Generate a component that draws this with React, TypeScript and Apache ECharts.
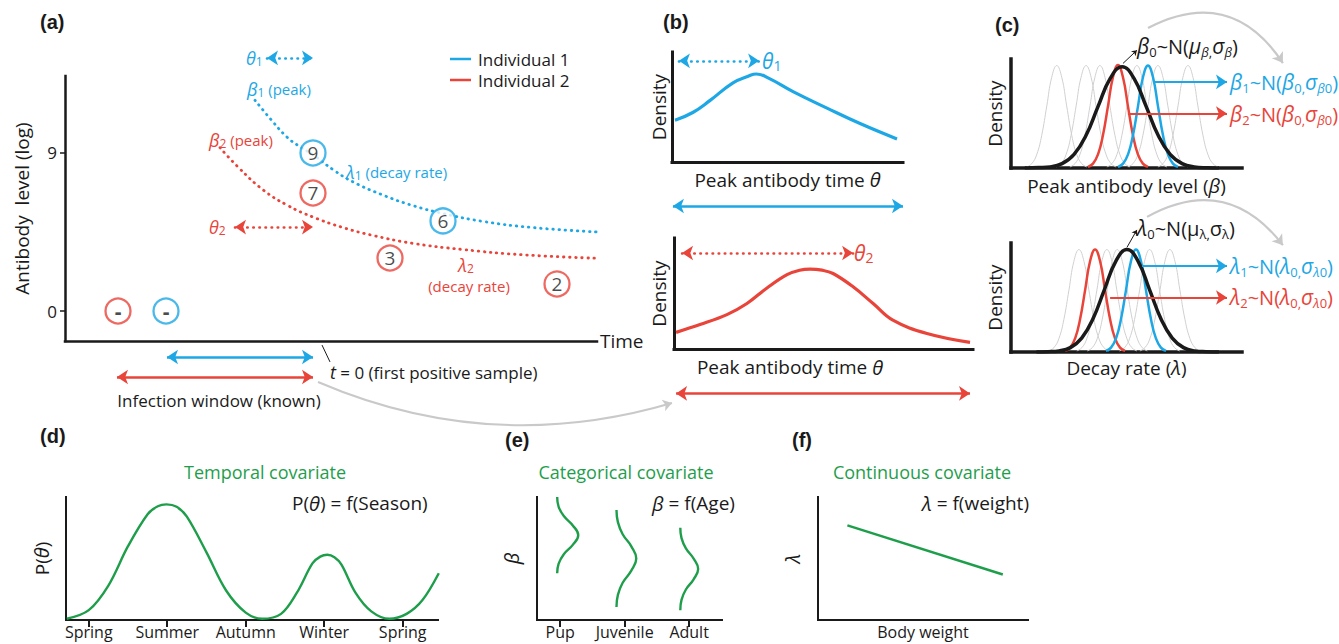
import React, { useEffect, useRef } from "react";
import * as echarts from "echarts";

// ---------------- data ----------------
// (a) antibody trajectories: [time relative to first positive sample, log antibody level]
const IND1_TRAJECTORY = [
  [-5.8, 12.0], [-4.2, 10.9], [-2.6, 9.9], [-1.3, 9.35], [0, 8.9], [2, 8.05], [4, 7.35],
  [7, 6.6], [10, 6.0], [13, 5.55], [17, 5.1], [22, 4.75], [28.4, 4.5],
];
const IND2_TRAJECTORY = [
  [-9.3, 9.3], [-7.5, 8.2], [-5, 6.9], [-2.5, 6.0], [0, 5.35], [3, 4.75], [6, 4.3],
  [10, 3.85], [15, 3.5], [21, 3.2], [28.4, 3.0],
];
const IND1_SAMPLES = [[-14.7, 0, "-"], [0, 9, "9"], [13, 5.13, "6"]];
const IND2_SAMPLES = [[-19.5, 0, "-"], [0, 6.72, "7"], [7.7, 3.02, "3"], [24.4, 1.54, "2"]];
const A_TICKS = [0, 9];
const IND1_WINDOW = [-14.6, 0];
const IND2_WINDOW = [-19.6, 0];
const THETA1_OFFSET = [-4.6, 0];
const THETA2_OFFSET = [-7.8, 0];

// (b) density of peak antibody time
const THETA1_DENSITY = [
  [0.13, 0.38], [0.9, 0.45], [1.65, 0.56], [2.64, 0.72], [3.3, 0.78], [3.65, 0.8], [4.2, 0.76],
  [5.24, 0.64], [6.71, 0.49], [8.14, 0.35], [9.74, 0.21],
];
const THETA2_DENSITY = [
  [0.07, 0.15], [0.87, 0.22], [1.77, 0.31], [2.44, 0.41], [3.11, 0.55], [3.78, 0.67], [4.2, 0.71],
  [4.55, 0.72], [4.95, 0.71], [5.32, 0.68], [5.99, 0.56], [6.66, 0.41], [7.32, 0.26], [8.46, 0.14],
  [9.9, 0.06],
];
const THETA1_SPAN = [0.3, 3.77];
const THETA2_SPAN = [0.27, 5.99];

// (c) population and individual distributions
const BETA_POP = [
  [0.6, 0], [1.2, 0.004], [1.69, 0.01], [2.21, 0.04], [2.73, 0.125], [3.25, 0.3], [3.77, 0.565],
  [4.29, 0.82], [4.81, 0.93], [5.33, 0.82], [5.85, 0.565], [6.37, 0.3], [6.89, 0.125],
  [7.41, 0.04], [7.93, 0.01], [8.5, 0.002], [9.0, 0],
];
const BETA_IND1 = [
  [4.63, 0.01], [4.85, 0.04], [5.07, 0.127], [5.28, 0.3], [5.5, 0.57], [5.71, 0.83], [5.93, 0.94],
  [6.15, 0.83], [6.36, 0.57], [6.58, 0.3], [6.79, 0.127], [7.01, 0.04], [7.23, 0.01],
];
const BETA_IND2 = [
  [3.33, 0.01], [3.55, 0.04], [3.77, 0.127], [3.98, 0.3], [4.2, 0.57], [4.41, 0.83], [4.63, 0.945],
  [4.85, 0.83], [5.06, 0.57], [5.28, 0.3], [5.49, 0.127], [5.71, 0.04], [5.93, 0.01],
];
const BETA_OTHER_PEAKS = [1.98, 3.25, 3.85, 5.45, 6.36, 7.66];
const LAMBDA_POP = [
  [1.1, 0], [1.6, 0.003], [2.08, 0.01], [2.57, 0.04], [3.06, 0.127], [3.55, 0.305], [4.04, 0.57],
  [4.53, 0.83], [5.02, 0.94], [5.51, 0.83], [6.0, 0.57], [6.49, 0.305], [6.98, 0.127],
  [7.47, 0.04], [7.96, 0.01], [8.45, 0.003], [9.0, 0],
];
const LAMBDA_IND1 = [
  [4.11, 0.01], [4.33, 0.04], [4.55, 0.127], [4.76, 0.3], [4.98, 0.57], [5.19, 0.83], [5.41, 0.94],
  [5.63, 0.83], [5.84, 0.57], [6.06, 0.3], [6.27, 0.127], [6.49, 0.04], [6.71, 0.01],
];
const LAMBDA_IND2 = [
  [2.34, 0.01], [2.56, 0.04], [2.78, 0.127], [2.99, 0.3], [3.21, 0.57], [3.42, 0.83], [3.64, 0.94],
  [3.86, 0.83], [4.07, 0.57], [4.29, 0.3], [4.5, 0.127], [4.72, 0.04], [4.94, 0.01],
];
const LAMBDA_OTHER_PEAKS = [2.94, 4.15, 4.6, 6.0, 6.88];
const NARROW_SHAPE = [
  [-1.3, 0.01], [-1.08, 0.04], [-0.86, 0.127], [-0.65, 0.3], [-0.43, 0.57], [-0.22, 0.83], [0, 0.94],
  [0.22, 0.83], [0.43, 0.57], [0.65, 0.3], [0.86, 0.127], [1.08, 0.04], [1.3, 0.01],
];

// (d) temporal covariate
const SEASONS = ["Spring", "Summer", "Autumn", "Winter", "Spring"];
const SEASON_TICKS = [1, 2, 3, 4, 5];
const SEASONAL_P = [
  [0.72, 0.01], [1.0, 0.08], [1.25, 0.28], [1.5, 0.6], [1.75, 0.86], [1.88, 0.925], [1.99, 0.94],
  [2.12, 0.92], [2.25, 0.84], [2.5, 0.55], [2.75, 0.24], [3.0, 0.06], [3.21, 0.01], [3.45, 0.05],
  [3.65, 0.22], [3.85, 0.46], [3.95, 0.515], [4.04, 0.53], [4.13, 0.51], [4.22, 0.45], [4.4, 0.22],
  [4.6, 0.07], [4.83, 0.01], [5.05, 0.05], [5.25, 0.16], [5.46, 0.38],
];

// (e) categorical covariate: [class position + density, beta]
const AGE_CLASSES = ["Pup", "Juvenile", "Adult"];
const AGE_TICKS = [1, 2, 3];
const PUP_BETA = [
  [0.953, 1.0], [0.976, 0.92], [1.056, 0.845], [1.198, 0.767], [1.28, 0.69], [1.198, 0.613],
  [1.056, 0.535], [0.976, 0.458], [0.953, 0.38],
];
const JUVENILE_BETA = [
  [1.873, 0.894], [1.895, 0.796], [1.969, 0.697], [2.103, 0.599], [2.18, 0.5], [2.103, 0.401],
  [1.969, 0.303], [1.895, 0.204], [1.873, 0.106],
];
const ADULT_BETA = [
  [2.863, 0.75], [2.882, 0.666], [2.95, 0.582], [3.07, 0.499], [3.14, 0.415], [3.07, 0.331],
  [2.95, 0.248], [2.882, 0.164], [2.863, 0.08],
];

// (f) continuous covariate
const WEIGHT_LAMBDA = [[0.14, 0.77], [0.88, 0.37]];

// ---------------- styles ----------------
const BLUE = "#1DA7E5";
const RED = "#E8443A";
const GREEN = "#1E9E4B";
const INK = "#1a1a1a";
const GREY_LINE = "#d0d0d0";
const GREY_ARROW = "#c9c9c9";
const FONT = "'Open Sans', 'Noto Sans', 'DejaVu Sans', sans-serif";
const BOLD_FONT = "'Liberation Sans', Arial, sans-serif";

const richSet = (color: string, base: number, sub: number, drop: number, small = 15) => {
  const lh = sub + 2 * drop;
  const mk = (size: number, italic: boolean, lineHeight: number, va?: string) => ({
    fontFamily: FONT,
    fontSize: size,
    fontStyle: italic ? "italic" : "normal",
    fill: color,
    color,
    lineHeight,
    ...(va ? { verticalAlign: va } : {}),
  });
  return {
    i: mk(base + 1, true, lh),
    r: mk(base, false, lh),
    p: mk(small, false, lh),
    s: mk(sub, false, sub, "bottom"),
    si: mk(sub, true, sub, "bottom"),
  };
};

const txt = (x: number, y: number, text: string, o: any = {}) => ({
  type: "text",
  x,
  y,
  z: 50,
  silent: true,
  style: {
    text,
    fill: o.color ?? INK,
    fontFamily: o.family ?? FONT,
    fontSize: o.size ?? 17,
    fontStyle: o.italic ? "italic" : "normal",
    fontWeight: o.bold ? "bold" : "normal",
    align: o.align ?? "left",
    textAlign: o.align ?? "left",
    verticalAlign: "middle",
    textVerticalAlign: "middle",
    rich: o.rich,
  },
});

const valueAxis = (gridIndex: number, min: number, max: number, width: number, extra: any = {}) => ({
  type: "value",
  gridIndex,
  min,
  max,
  splitLine: { show: false },
  axisTick: { show: false },
  axisLabel: { show: false },
  axisLine: { show: true, onZero: false, lineStyle: { color: INK, width, cap: "square" } },
  nameTextStyle: { fontFamily: FONT, fontSize: 19, color: INK },
  ...extra,
});

const curve = (xi: number, data: number[][], color: string, width: number, extra: any = {}) => ({
  type: "line",
  xAxisIndex: xi,
  yAxisIndex: xi,
  data,
  smooth: extra.smooth ?? 0.45,
  showSymbol: false,
  symbol: "none",
  silent: true,
  lineStyle: { color, width, ...(extra.lineStyle || {}) },
  z: extra.z ?? 3,
});

const arrows = (xi: number, coords: number[][][], color: string, width: number, o: any = {}) => ({
  type: "lines",
  coordinateSystem: "cartesian2d",
  xAxisIndex: xi,
  yAxisIndex: xi,
  clip: false,
  silent: true,
  polyline: false,
  symbol: o.symbol ?? ["arrow", "arrow"],
  symbolSize: o.size ?? 10,
  lineStyle: { color, width, opacity: 1, curveness: o.curveness ?? 0, ...(o.lineStyle || {}) },
  data: coords.map((c) => ({ coords: c })),
  z: 4,
});

const samples = (data: any[], color: string) => ({
  type: "scatter",
  xAxisIndex: 0,
  yAxisIndex: 0,
  data,
  symbol: "circle",
  symbolSize: 25,
  silent: true,
  itemStyle: { color: "#fff", borderColor: color, borderWidth: 2.3 },
  label: {
    show: true,
    position: "inside",
    formatter: (p: any) => (p.data[2] === "-" ? "{d|-}" : p.data[2]),
    color: INK,
    fontSize: 19,
    fontFamily: FONT,
    rich: { d: { fontWeight: "bold", fontSize: 21, color: INK, fontFamily: FONT } },
  },
  z: 6,
});

const DOTS = { type: [0.5, 5.6], cap: "round" };

const greyFamily = (xi: number, peaks: number[]) =>
  peaks.map((c) => curve(xi, NARROW_SHAPE.map(([dx, y]) => [c + dx, y]), GREY_LINE, 1, { z: 1 }));

function buildOption() {
  const rA = (c: string) => richSet(c, 17, 12, 3, 15);
  const rB = (c: string) => richSet(c, 20, 14, 4);
  const rC = (c: string) => richSet(c, 20, 13, 6);
  const rD = (c: string) => richSet(c, 19, 13, 5);
  const nameRich = richSet(INK, 19, 13, 4);

  const xAxis = [
    valueAxis(0, -24.8, 28.4, 2.5, {
      name: "Time",
      nameLocation: "end",
      nameGap: 3,
      nameTextStyle: { fontFamily: FONT, fontSize: 19, color: INK, align: "left", verticalAlign: "middle" },
    }),
    valueAxis(1, 0, 10, 3, {
      name: "{r|Peak antibody time }{i|θ}",
      nameLocation: "middle",
      nameGap: 7,
      nameTextStyle: { rich: nameRich },
    }),
    valueAxis(2, 0, 10, 3),
    valueAxis(3, 0, 10, 3.5, {
      name: "{r|Peak antibody level (}{i|β}{r|)}",
      nameLocation: "middle",
      nameGap: 7,
      nameTextStyle: { rich: nameRich },
    }),
    valueAxis(4, 0, 10, 3.5, {
      name: "{r|Decay rate (}{i|λ}{r|)}",
      nameLocation: "middle",
      nameGap: 5,
      nameTextStyle: { rich: nameRich },
    }),
    valueAxis(5, 0.71, 5.45, 2, {
      axisTick: { show: true, customValues: SEASON_TICKS, length: 7, lineStyle: { color: INK, width: 2 } },
      axisLabel: {
        show: true,
        customValues: SEASON_TICKS,
        formatter: (v: number) => SEASONS[Math.round(v) - 1],
        fontFamily: FONT,
        fontSize: 16,
        color: INK,
        margin: 4,
      },
    }),
    valueAxis(6, 0.64, 3.51, 2, {
      axisTick: { show: true, customValues: AGE_TICKS, length: 7, lineStyle: { color: INK, width: 2 } },
      axisLabel: {
        show: true,
        customValues: AGE_TICKS,
        formatter: (v: number) => AGE_CLASSES[Math.round(v) - 1],
        fontFamily: FONT,
        fontSize: 16,
        color: INK,
        margin: 4,
      },
    }),
    valueAxis(7, 0, 1, 2, {
      name: "Body weight",
      nameLocation: "middle",
      nameGap: 4,
      nameTextStyle: { fontFamily: FONT, fontSize: 16, color: INK, verticalAlign: "top" },
    }),
  ];

  const yName = (name: string, gap: number, rich?: any) => ({
    name,
    nameLocation: "middle",
    nameGap: gap,
    nameRotate: 90,
    nameTextStyle: rich ? { rich } : { fontFamily: FONT, fontSize: 19, color: INK },
  });

  const yAxis = [
    valueAxis(0, -1.708, 13.38, 2.5, {
      ...yName("Antibody  level (log)", 34),
      axisTick: { show: true, customValues: A_TICKS, length: 5, lineStyle: { color: INK, width: 1.5 } },
      axisLabel: { show: true, customValues: A_TICKS, fontFamily: FONT, fontSize: 17, color: INK, margin: 8 },
    }),
    valueAxis(1, 0, 1, 3, yName("Density", 4)),
    valueAxis(2, 0, 1, 3, yName("Density", 6)),
    valueAxis(3, 0, 1, 3.5, yName("Density", 7)),
    valueAxis(4, 0, 1, 3.5, yName("Density", 7)),
    valueAxis(5, 0, 1, 2, yName("{r|P(}{i|θ}{r|)}", 14, richSet(INK, 19, 13, 4))),
    valueAxis(6, 0, 1, 2, yName("{i|β}", 15, richSet(INK, 19, 13, 4))),
    valueAxis(7, 0, 1, 2, yName("{i|λ}", 15, richSet(INK, 19, 13, 4))),
  ];

  const series: any[] = [
    // (a)
    curve(0, IND1_TRAJECTORY, BLUE, 2.8, { lineStyle: DOTS }),
    curve(0, IND2_TRAJECTORY, RED, 2.8, { lineStyle: DOTS }),
    samples(IND1_SAMPLES, BLUE),
    samples(IND2_SAMPLES, RED),
    arrows(0, [[[THETA1_OFFSET[0], 14.41], [THETA1_OFFSET[1], 14.41]]], BLUE, 2.6, { lineStyle: DOTS, size: 11 }),
    arrows(0, [[[THETA2_OFFSET[0], 4.78], [THETA2_OFFSET[1], 4.78]]], RED, 2.6, { lineStyle: DOTS, size: 11 }),
    arrows(0, [[[IND1_WINDOW[0], -2.62], [IND1_WINDOW[1], -2.62]]], BLUE, 2.5, { size: 11 }),
    arrows(0, [[[IND2_WINDOW[0], -3.76], [IND2_WINDOW[1], -3.76]]], RED, 2.5, { size: 11 }),
    arrows(0, [[[0.9, -1.94], [1.7, -2.9]]], INK, 1, { symbol: ["none", "none"] }),
    arrows(0, [[[0.5, -4.04], [35.9, -5.24]]], GREY_ARROW, 2, { symbol: ["none", "arrow"], size: 9, curveness: -0.18 }),
    // (b)
    curve(1, THETA1_DENSITY, BLUE, 3.2),
    arrows(1, [[[THETA1_SPAN[0], 0.92], [THETA1_SPAN[1], 0.92]]], BLUE, 2.6, { lineStyle: DOTS, size: 11 }),
    arrows(1, [[[0.04, -0.4], [10, -0.4]]], BLUE, 2.5, { size: 11 }),
    curve(2, THETA2_DENSITY, RED, 3.2, { smooth: 0.4 }),
    arrows(2, [[[THETA2_SPAN[0], 0.865], [THETA2_SPAN[1], 0.865]]], RED, 2.6, { lineStyle: DOTS, size: 11 }),
    arrows(2, [[[0.07, -0.4], [9.9, -0.4]]], RED, 2.5, { size: 11 }),
    // (c)
    ...greyFamily(3, BETA_OTHER_PEAKS),
    curve(3, BETA_IND2, RED, 2.5, { z: 2 }),
    curve(3, BETA_IND1, BLUE, 2.5, { z: 2 }),
    curve(3, BETA_POP, INK, 3.5, { z: 3 }),
    arrows(3, [[[6.15, 0.79], [9.35, 0.79]]], BLUE, 2.2, { symbol: ["none", "arrow"], size: 11 }),
    arrows(3, [[[5.06, 0.5], [9.35, 0.5]]], RED, 2.2, { symbol: ["none", "arrow"], size: 11 }),
    arrows(3, [[[4.85, 0.96], [5.45, 1.08]]], INK, 1, { symbol: ["none", "arrow"], size: 5 }),
    arrows(3, [[[5.93, 1.284], [11.77, 0.963]]], GREY_ARROW, 2.2, { symbol: ["none", "arrow"], size: 10, curveness: 0.45 }),
    ...greyFamily(4, LAMBDA_OTHER_PEAKS),
    curve(4, LAMBDA_IND2, RED, 2.5, { z: 2 }),
    curve(4, LAMBDA_IND1, BLUE, 2.5, { z: 2 }),
    curve(4, LAMBDA_POP, INK, 3.5, { z: 3 }),
    arrows(4, [[[5.67, 0.79], [9.35, 0.79]]], BLUE, 2.2, { symbol: ["none", "arrow"], size: 11 }),
    arrows(4, [[[4.29, 0.5], [9.35, 0.5]]], RED, 2.2, { symbol: ["none", "arrow"], size: 11 }),
    arrows(4, [[[5.02, 0.96], [5.45, 1.12]]], INK, 1, { symbol: ["none", "arrow"], size: 5 }),
    arrows(4, [[[5.89, 1.24], [11.77, 0.98]]], GREY_ARROW, 2.2, { symbol: ["none", "arrow"], size: 10, curveness: 0.43 }),
    // (d)
    curve(5, SEASONAL_P, GREEN, 2.4, { smooth: 0.35 }),
    // (e)
    curve(6, PUP_BETA, GREEN, 2.4),
    curve(6, JUVENILE_BETA, GREEN, 2.4),
    curve(6, ADULT_BETA, GREEN, 2.4),
    // (f)
    curve(7, WEIGHT_LAMBDA, GREEN, 2.4, { smooth: false }),
  ];

  const graphics: any[] = [
    // panel letters
    txt(40, 22, "(a)", { bold: true, family: BOLD_FONT, size: 20 }),
    txt(663, 22, "(b)", { bold: true, family: BOLD_FONT, size: 20 }),
    txt(995, 25, "(c)", { bold: true, family: BOLD_FONT, size: 20 }),
    txt(40, 436, "(d)", { bold: true, family: BOLD_FONT, size: 20 }),
    txt(505, 440, "(e)", { bold: true, family: BOLD_FONT, size: 20 }),
    txt(792, 440, "(f)", { bold: true, family: BOLD_FONT, size: 20 }),
    // (a) legend
    { type: "line", silent: true, z: 50, shape: { x1: 450, y1: 59, x2: 471, y2: 59 }, style: { stroke: BLUE, lineWidth: 2.5 } },
    { type: "line", silent: true, z: 50, shape: { x1: 450, y1: 80, x2: 471, y2: 80 }, style: { stroke: RED, lineWidth: 2.5 } },
    txt(478, 59, "Individual 1", { size: 17 }),
    txt(478, 80, "Individual 2", { size: 17 }),
    // (a) annotations
    txt(246, 58, "{i|θ}{s|1}", { rich: rA(BLUE) }),
    txt(247, 89, "{i|β}{s|1}{p| (peak)}", { rich: rA(BLUE) }),
    txt(209, 140, "{i|β}{s|2}{p| (peak)}", { rich: rA(RED) }),
    txt(346, 172, "{i|λ}{s|1}{p| (decay rate)}", { rich: rA(BLUE) }),
    txt(209, 227, "{i|θ}{s|2}", { rich: rA(RED) }),
    txt(466, 265, "{i|λ}{s|2}", { rich: rA(RED), align: "center" }),
    txt(469, 286, "(decay rate)", { color: RED, size: 15, align: "center" }),
    txt(330, 372, "{i|t}{r| = 0 (first positive sample)}", { rich: richSet(INK, 17, 12, 3) }),
    txt(219, 400, "Infection window (known)", { size: 17, align: "center" }),
    // (b)
    txt(762, 61, "{i|θ}{s|1}", { rich: rB(BLUE) }),
    txt(854, 253, "{i|θ}{s|2}", { rich: rB(RED) }),
    txt(790, 367, "{r|Peak antibody time }{i|θ}", { rich: nameRich, align: "center" }),
    // (c)
    txt(1137, 46, "{i|β}{s|0}{r|~N(}{i|μ}{si|β}{s|,}{i|σ}{si|β}{r|)}", { rich: rC(INK) }),
    txt(1230, 82, "{i|β}{s|1}{r|~N(}{i|β}{s|0,}{i|σ}{si|β}{s|0}{r|)}", { rich: rC(BLUE) }),
    txt(1230, 114, "{i|β}{s|2}{r|~N(}{i|β}{s|0,}{i|σ}{si|β}{s|0}{r|)}", { rich: rC(RED) }),
    txt(1137, 228, "{i|λ}{s|0}{r|~N(μ}{s|λ,}{r|σ}{s|λ}{r|)}", { rich: rC(INK) }),
    txt(1230, 266, "{i|λ}{s|1}{r|~N(}{i|λ}{s|0,}{i|σ}{si|λ}{s|0}{r|)}", { rich: rC(BLUE) }),
    txt(1230, 297, "{i|λ}{s|2}{r|~N(}{i|λ}{s|0,}{i|σ}{si|λ}{s|0}{r|)}", { rich: rC(RED) }),
    // (d) (e) (f)
    txt(265, 472, "Temporal covariate", { color: GREEN, size: 18, align: "center" }),
    txt(292, 503, "{r|P(}{i|θ}{r|) = f(Season)}", { rich: rD(INK) }),
    txt(626, 472, "Categorical covariate", { color: GREEN, size: 18, align: "center" }),
    txt(652, 503, "{i|β}{r| = f(Age)}", { rich: rD(INK) }),
    txt(922, 472, "Continuous covariate", { color: GREEN, size: 18, align: "center" }),
    txt(922, 503, "{i|λ}{r| = f(weight)}", { rich: rD(INK) }),
  ];

  return {
    animation: false,
    backgroundColor: "#ffffff",
    grid: [
      { left: 65, top: 76, width: 532, height: 265 },
      { left: 672, top: 52, width: 231, height: 110 },
      { left: 674, top: 238, width: 299, height: 111 },
      { left: 1011, top: 59, width: 231, height: 109 },
      { left: 1011, top: 243, width: 231, height: 109 },
      { left: 66, top: 497, width: 372, height: 123 },
      { left: 537, top: 497, width: 185, height: 123 },
      { left: 818, top: 497, width: 210, height: 123 },
    ],
    xAxis,
    yAxis,
    series,
    graphic: { elements: graphics },
  };
}

export default function App() {
  const ref = useRef<HTMLDivElement>(null);
  useEffect(() => {
    if (!ref.current) return;
    const chart = echarts.init(ref.current, null, { renderer: "svg" });
    chart.setOption(buildOption() as any);
    return () => chart.dispose();
  }, []);
  return (
    <div
      ref={ref}
      style={{ position: "fixed", left: 0, top: 0, width: 1339, height: 644, background: "#fff" }}
    />
  );
}
